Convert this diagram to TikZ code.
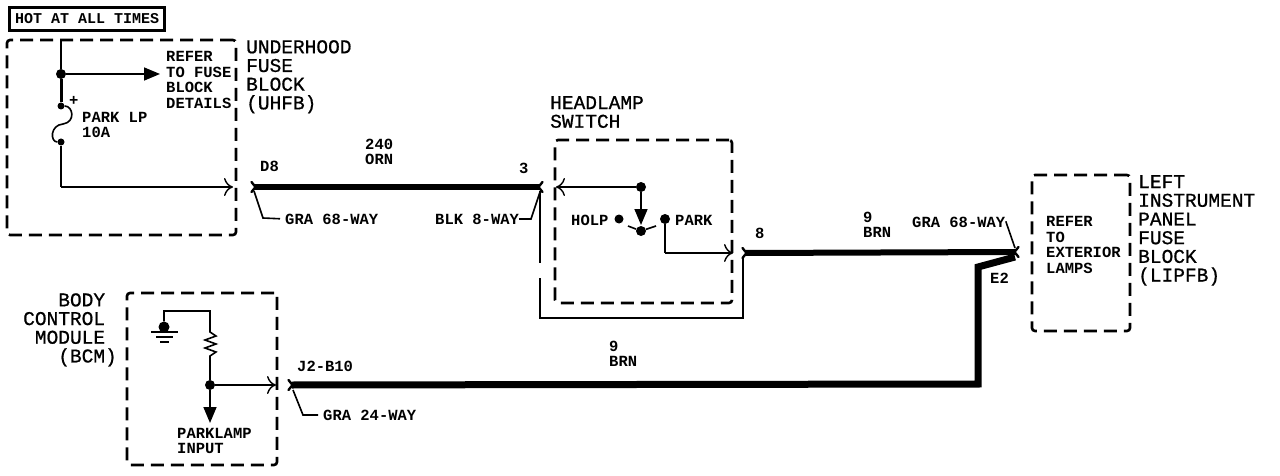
\documentclass[tikz,border=0pt]{standalone}
\usepackage{fontspec}
\setmonofont{Liberation Mono}
\newfontfamily\bigmono[FakeBold=0.8]{Liberation Mono}
\usetikzlibrary{arrows.meta}
\tikzset{
  bigtxt/.style={anchor=north west,inner sep=0pt,align=left,font=\bigmono\fontsize{19.5}{18.7}\selectfont},
  midtxt/.style={anchor=west,inner sep=0pt,align=left,font=\ttfamily\bfseries\fontsize{15.5}{15.5}\selectfont},
  boxdash/.style={draw,line width=2.6pt,dash pattern=on 13pt off 7pt,rounded corners=3pt,inner sep=0pt},
  dot/.style={circle,fill=black,inner sep=0pt,minimum size=10pt},
  wire/.style={line width=1.6pt},
  fatwire/.style={line width=6pt},
  openarrow/.style={-{To[length=9pt,width=18pt,line width=1.4pt]}},
  solidarrow/.style={-{Triangle[length=16pt,width=13pt]}},
  mate/.pic={\draw[line width=2.4pt,line cap=round] (-3.5,-5) -- (0.5,0) -- (-3.5,5);}
}
\begin{document}
\begin{tikzpicture}[x=1pt,y=-1pt]
  \useasboundingbox (0,0) rectangle (1280,476);
  % boxes
  \node[draw,line width=2.8pt,inner sep=0pt,minimum width=155pt,minimum height=23pt] (hot) at (87,19) {};
  \node[midtxt,font=\ttfamily\bfseries\fontsize{15}{15}\selectfont] (hottxt) at (15,19) {HOT AT ALL TIMES};
  \node[boxdash,minimum width=229pt,minimum height=195pt] (uhfb) at (121.5,137.5) {};
  \node[boxdash,minimum width=177pt,minimum height=163pt] (sw) at (643.5,221.5) {};
  \node[boxdash,minimum width=98pt,minimum height=156pt] (lipfb) at (1081,253) {};
  \node[boxdash,minimum width=150pt,minimum height=172pt] (bcm) at (202,379) {};
  % texts
  \node[bigtxt] (uhfbtxt) at (246,40) {UNDERHOOD\\FUSE\\BLOCK\\ (UHFB)};
  \node[bigtxt] (swtxt) at (550,96) {HEADLAMP\\SWITCH};
  \node[bigtxt] (lipfbtxt) at (1138,175) {LEFT\\INSTRUMENT\\PANEL\\FUSE\\BLOCK\\(LIPFB)};
  \node[bigtxt,align=right,anchor=north east] (bcmtxt) at (117,292) {BODY\phantom{)}\\CONTROL\phantom{)}\\MODULE\phantom{)}\\(BCM)};
  \node[midtxt] (refer) at (166,80) {REFER\\TO FUSE\\BLOCK\\DETAILS};
  \node[midtxt] (fusetxt) at (82,125) {PARK LP\\10A};
  \node[midtxt] (extern) at (1046,245) {REFER\\TO\\EXTERIOR\\LAMPS};
  \node[midtxt] (inputtxt) at (177,441) {PARKLAMP\\INPUT};
  \node[midtxt] (plus) at (69,101) {+};
  \node[midtxt] (w240) at (365,152) {240\\ORN};
  \node[midtxt] (w9a) at (863,225) {9\\BRN};
  \node[midtxt] (w9b) at (609,354) {9\\BRN};
  \node[midtxt] (d8) at (260,166) {D8};
  \node[midtxt] (p3) at (519,168) {3};
  \node[midtxt] (p8) at (755,233) {8};
  \node[midtxt] (e2) at (990,278) {E2};
  \node[midtxt] (j2) at (297,366) {J2-B10};
  \node[midtxt] (gra68a) at (285,219) {GRA 68-WAY};
  \node[midtxt] (blk8) at (435,219) {BLK 8-WAY};
  \node[midtxt] (gra68b) at (912,222) {GRA 68-WAY};
  \node[midtxt] (gra24) at (323,415) {GRA 24-WAY};
  \node[midtxt] (holp) at (571,220) {HOLP};
  \node[midtxt] (park) at (675,220) {PARK};
  % junctions
  \node[dot] (j1) at (61,74) {};
  \node[dot,minimum size=7pt] (fa) at (61,106) {};
  \node[dot,minimum size=7pt] (fb) at (61,142) {};
  \node[dot] (j2a) at (641,187) {};
  \node[dot] (j2b) at (641,231) {};
  \node[dot,minimum size=9pt] (hdot) at (619,219) {};
  \node[dot] (pdot) at (665,219) {};
  \node[dot,minimum size=11pt] (gnd) at (164,327) {};
  \node[dot] (j3) at (210,385) {};
  \coordinate (top) at (61,40);
  \coordinate (reftip) at (160,74);
  \coordinate (c1) at (61,187);
  \coordinate (uout) at (233,187);
  \coordinate (sin) at (556,187);
  \coordinate (swtip) at (641,225);
  \coordinate (c2) at (665,253);
  \coordinate (sout) at (733,253);
  \coordinate (c3) at (164,311);
  \coordinate (c4) at (210,311);
  \coordinate (bout) at (276,385);
  \coordinate (intip) at (210,423);
  \coordinate (d8p) at (255,187);
  \coordinate (p3p) at (539,187);
  \coordinate (p8p) at (746,253);
  \coordinate (e2a) at (1015,252);
  \coordinate (e2b) at (1015,257);
  \coordinate (j2p) at (292,385);
  \coordinate (c5) at (978,384);
  \coordinate (c6) at (978,267);
  % inner wires
  \draw[wire] (top) -- (j1);
  \draw[wire,solidarrow] (j1) -- (reftip);
  \draw[line width=3pt] (j1) -- (fa);
  \draw[wire] (fa) .. controls (73,106) and (76,122) .. (63,124) .. controls (50,125) and (50,142) .. (fb);
  \draw[wire] (fb) -- (c1);
  \draw[wire,openarrow] (c1) -- (uout);
  \draw[wire,openarrow] (j2a) -- (sin);
  \draw[wire,solidarrow] (j2a) -- (swtip);
  \draw[wire] (j2b) -- (628,226);
  \draw[wire] (j2b) -- (656,226);
  \draw[wire] (pdot) -- (c2);
  \draw[wire,openarrow] (c2) -- (sout);
  \draw[wire] (gnd) -- (c3) -- (c4) -- (210,332) -- (216,336) -- (205,340) -- (216,344) -- (205,348) -- (216,352) -- (210,356) -- (j3);
  \draw[wire,openarrow] (j3) -- (bout);
  \draw[wire,solidarrow] (j3) -- (intip);
  \draw[wire] (151,332) -- (178,332);
  \draw[wire] (156,337) -- (173,337);
  \draw[wire] (160,342) -- (169,342);
  % outer wires
  \draw[fatwire] (d8p) -- (p3p);
  \draw[fatwire] (p8p) -- (e2a);
  \draw[line width=7pt,line join=miter] (j2p) -- (c5) -- (c6) -- (e2b);
  \draw[line width=1.2pt] (540,191) -- (540,263);
  \draw[line width=1.2pt] (540,278) -- (540,318) -- (743,318) -- (743,258);
  % connector ends
  \pic at (d8p) {mate};
  \pic at (p8p) {mate};
  \pic at (j2p) {mate};
  \pic[rotate=180] at (p3p) {mate};
  \pic[rotate=180] at (1015,252) {mate};
  % leaders
  \draw[wire,shorten >=5pt] (254,191) -- (263,218) -- (gra68a.west);
  \draw[wire] (blk8.east) -- (531,219) -- (540,192);
  \draw[wire] (gra68b.east) -- (1006,222) -- (1015,248);
  \draw[wire,shorten >=5pt] (293,390) -- (303,415) -- (gra24.west);
\end{tikzpicture}
\end{document}
